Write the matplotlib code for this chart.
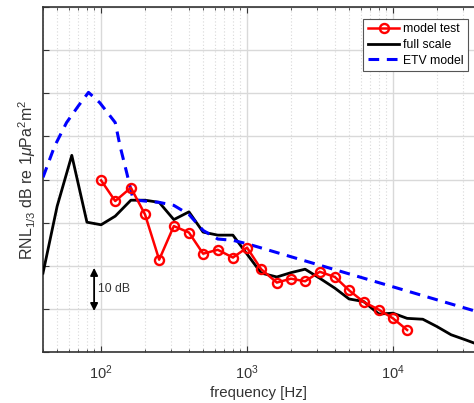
import numpy as np
import matplotlib
matplotlib.use("Agg")
import matplotlib.pyplot as plt
from matplotlib.ticker import LogLocator, MultipleLocator, NullFormatter, LogFormatterMathtext

plt.rcParams['font.family'] = ['Liberation Sans', 'DejaVu Sans']
plt.rcParams['mathtext.fontset'] = 'custom'
plt.rcParams['mathtext.rm'] = 'Liberation Sans'
plt.rcParams['mathtext.it'] = 'Liberation Sans:italic'

# model test (red)
model_f = [100, 125, 160, 200, 250, 315, 400, 500, 630, 800, 1000, 1250,
           1600, 2000, 2500, 3150, 4000, 5000, 6300, 8000, 10000, 12500]
model_y = [39.8, 35.0, 38.1, 31.9, 21.4, 29.2, 27.7, 22.8, 23.7, 21.9, 24.2, 19.2,
           16.1, 17.0, 16.4, 18.6, 17.4, 14.3, 11.6, 9.8, 7.8, 5.1]

# full scale (black)
full_f = [40, 50, 63, 80, 100, 125, 160, 200, 250, 315, 400, 500, 630, 800, 1000,
          1250, 1600, 2000, 2500, 3150, 4000, 5000, 6300, 8000, 10000, 12500,
          16000, 20000, 25000, 31500, 40000]
full_y = [18.3, 33.8, 45.6, 30.1, 29.5, 31.5, 35.2, 35.2, 34.7, 30.7, 32.5, 27.8,
          27.1, 27.1, 22.7, 18.3, 17.4, 18.4, 19.2, 17.1, 14.8, 12.3, 11.7, 8.8,
          9.0, 7.8, 7.6, 5.9, 4.0, 2.8, 1.5]

# ETV model (blue dashed)
etv_f = [40, 48, 58, 70, 82, 98, 125, 135, 150, 166, 200, 250, 315, 400, 500,
         630, 800, 1000, 40000]
etv_y = [40.5, 47.7, 53.2, 57.1, 60.2, 57.8, 53.2, 47.7, 41.5, 35.3, 35.0, 34.7,
         34.0, 31.9, 28.2, 26.2, 25.9, 25.1, 9.1]

fig = plt.figure(figsize=(4.74, 4.03), dpi=100)
ax = fig.add_axes([43/474, 1 - 352/403, 1 - 43/474, (352 - 7)/403])

h_full, = ax.plot(full_f, full_y, color='black', lw=2.0, label='full scale', zorder=3)
h_etv, = ax.plot(etv_f, etv_y, color=(0, 0, 1), lw=2.2, ls=(0, (3.5, 2.5)),
                 label='ETV model', zorder=4)
h_model, = ax.plot(model_f, model_y, color=(1, 0, 0), lw=1.8, marker='o', ms=6.5,
                   mfc='none', mec=(1, 0, 0), mew=1.7, label='model test', zorder=5)

ax.set_xscale('log')
ax.set_xlim(40, 10**4.555)
ax.set_ylim(0, 80)
ax.yaxis.set_major_locator(MultipleLocator(10))
ax.yaxis.set_major_formatter(NullFormatter())
ax.xaxis.set_major_locator(LogLocator(base=10, numticks=10))
ax.xaxis.set_minor_locator(LogLocator(base=10, subs=np.arange(2, 10), numticks=20))
ax.xaxis.set_major_formatter(LogFormatterMathtext())
ax.xaxis.set_minor_formatter(NullFormatter())

ax.grid(True, which='major', color='#d9d9d9', lw=1.0, ls='-')
ax.grid(True, which='minor', axis='x', color='#d9d9d9', lw=0.8, ls=(0, (1, 2)))
ax.set_axisbelow(True)

ax.tick_params(which='both', direction='in', top=True, right=False, colors='#333333',
               labelcolor='#333333', labelsize=10.5)
ax.tick_params(which='major', length=4)
ax.tick_params(which='minor', length=2.5)
ax.tick_params(axis='x', pad=8)
for s in ['left', 'bottom', 'top']:
    ax.spines[s].set_color('#333333')
    ax.spines[s].set_linewidth(1.2)
ax.spines['right'].set_visible(False)

ax.set_xlabel('frequency [Hz]', fontsize=10.8, color='#333333', labelpad=3)
ax.set_ylabel(r'RNL$_{1/3}$ dB re 1$\mu$Pa$^2$m$^2$', fontsize=11.5, color='#333333')
ax.yaxis.set_label_coords(-5/431, 0.5)

# 10 dB scale arrow
ax.annotate('', xy=(89.6, 9.5), xytext=(89.6, 19.5),
            arrowprops=dict(arrowstyle='<|-|>', color='black', lw=1.3,
                            mutation_scale=11, shrinkA=0, shrinkB=0))
ax.text(95, 14.5, '10 dB', fontsize=8.8, va='center', ha='left', color='#333333')

leg = ax.legend(handles=[h_model, h_full, h_etv], loc='upper right',
                bbox_to_anchor=(1 - 6/431, 1 - 12/345),
                fontsize=8.8, frameon=True, fancybox=False, framealpha=1,
                edgecolor='#555555', handlelength=2.6, handletextpad=0.3,
                borderpad=0.35, labelspacing=0.3, borderaxespad=0)
leg.get_frame().set_linewidth(0.8)

fig.savefig('out.png', dpi=100)
